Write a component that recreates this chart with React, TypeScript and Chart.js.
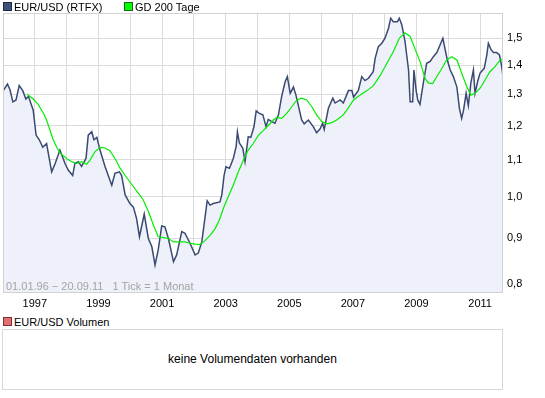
import React, { useEffect, useRef } from 'react';
import { Chart, registerables } from 'chart.js';
Chart.register(...registerables);

// EUR/USD (RTFX) – decimal years and rates
const priceDates = [
  1996.01, 1996.14, 1996.22, 1996.31, 1996.41, 1996.51, 1996.62, 1996.72, 1996.80, 1996.95,
  1997.04, 1997.14, 1997.25, 1997.37, 1997.53, 1997.64, 1997.79, 1997.95, 1998.05, 1998.19,
  1998.26, 1998.37, 1998.47, 1998.61, 1998.68, 1998.79, 1998.86, 1998.95, 1999.05, 1999.21,
  1999.42, 1999.52, 1999.66, 1999.73, 1999.84, 1999.99, 2000.10, 2000.20, 2000.29, 2000.44,
  2000.57, 2000.68, 2000.78, 2000.88, 2000.99, 2001.09, 2001.20, 2001.36, 2001.46, 2001.62,
  2001.72, 2001.88, 2002.04, 2002.14, 2002.25, 2002.32, 2002.42, 2002.51, 2002.61, 2002.82,
  2002.88, 2002.95, 2003.01, 2003.12, 2003.24, 2003.33, 2003.37, 2003.43, 2003.54, 2003.61,
  2003.71, 2003.79, 2003.89, 2003.96, 2004.06, 2004.17, 2004.27, 2004.34, 2004.45, 2004.55,
  2004.66, 2004.76, 2004.87, 2004.94, 2005.03, 2005.13, 2005.21, 2005.39, 2005.47, 2005.60,
  2005.76, 2005.86, 2005.97, 2006.05, 2006.10, 2006.23, 2006.37, 2006.44, 2006.60, 2006.70,
  2006.86, 2006.97, 2007.02, 2007.17, 2007.28, 2007.38, 2007.49, 2007.64, 2007.70, 2007.80,
  2007.91, 2008.01, 2008.12, 2008.19, 2008.27, 2008.40, 2008.46, 2008.54, 2008.64, 2008.75,
  2008.80, 2008.88, 2008.92, 2008.99, 2009.04, 2009.11, 2009.22, 2009.32, 2009.43, 2009.53,
  2009.64, 2009.74, 2009.83, 2009.90, 2009.97, 2010.06, 2010.16, 2010.27, 2010.35, 2010.42,
  2010.48, 2010.56, 2010.63, 2010.71, 2010.79, 2010.84, 2010.92, 2011.00, 2011.13, 2011.21,
  2011.26, 2011.34, 2011.42, 2011.52, 2011.61, 2011.68, 2011.72,
];
const priceValues = [
  1.312, 1.334, 1.315, 1.275, 1.281, 1.329, 1.312, 1.284, 1.293, 1.248,
  1.171, 1.157, 1.135, 1.146, 1.066, 1.089, 1.127, 1.089, 1.071, 1.056,
  1.089, 1.094, 1.081, 1.103, 1.171, 1.181, 1.157, 1.164, 1.127, 1.080,
  1.030, 1.062, 1.066, 1.056, 1.005, 0.983, 0.974, 0.946, 0.903, 0.957,
  0.899, 0.880, 0.840, 0.873, 0.928, 0.926, 0.899, 0.847, 0.862, 0.915,
  0.911, 0.888, 0.862, 0.866, 0.891, 0.930, 0.990, 0.979, 0.983, 0.987,
  1.005, 1.056, 1.080, 1.076, 1.103, 1.137, 1.181, 1.148, 1.132, 1.094,
  1.166, 1.164, 1.196, 1.246, 1.238, 1.233, 1.196, 1.219, 1.212, 1.207,
  1.233, 1.292, 1.342, 1.360, 1.303, 1.324, 1.297, 1.217, 1.205, 1.217,
  1.196, 1.178, 1.190, 1.207, 1.188, 1.254, 1.287, 1.271, 1.281, 1.271,
  1.312, 1.312, 1.290, 1.312, 1.360, 1.346, 1.354, 1.377, 1.425, 1.468,
  1.481, 1.500, 1.539, 1.579, 1.565, 1.565, 1.579, 1.552, 1.487, 1.383,
  1.275, 1.275, 1.383, 1.312, 1.281, 1.267, 1.342, 1.407, 1.414, 1.431,
  1.446, 1.474, 1.500, 1.458, 1.419, 1.383, 1.360, 1.324, 1.254, 1.222,
  1.248, 1.303, 1.263, 1.338, 1.383, 1.303, 1.342, 1.372, 1.389, 1.437,
  1.481, 1.458, 1.446, 1.446, 1.437, 1.395, 1.360,
];

// GD 200 Tage (200-day moving average)
const gd200Dates = [
  1996.76, 1996.95, 1997.11, 1997.27, 1997.37, 1997.48, 1997.58, 1997.69, 1997.79, 1998.00,
  1998.16, 1998.32, 1998.47, 1998.63, 1998.74, 1998.89, 1999.05, 1999.21, 1999.36, 1999.52,
  1999.68, 1999.84, 2000.05, 2000.25, 2000.41, 2000.57, 2000.73, 2000.88, 2001.04, 2001.20,
  2001.36, 2001.57, 2001.72, 2001.88, 2002.04, 2002.19, 2002.35, 2002.51, 2002.67, 2002.80,
  2002.93, 2003.08, 2003.24, 2003.40, 2003.56, 2003.71, 2003.87, 2004.03, 2004.19, 2004.34,
  2004.50, 2004.61, 2004.76, 2004.92, 2005.08, 2005.24, 2005.39, 2005.55, 2005.71, 2005.86,
  2006.02, 2006.18, 2006.34, 2006.49, 2006.70, 2006.81, 2007.02, 2007.23, 2007.44, 2007.64,
  2007.86, 2008.07, 2008.27, 2008.46, 2008.64, 2008.80, 2008.96, 2009.11, 2009.27, 2009.37,
  2009.51, 2009.64, 2009.80, 2009.95, 2010.11, 2010.27, 2010.42, 2010.58, 2010.71, 2010.84,
  2011.00, 2011.16, 2011.31, 2011.47, 2011.63, 2011.70,
];
const gd200Values = [
  1.300, 1.284, 1.266, 1.238, 1.217, 1.185, 1.157, 1.135, 1.119, 1.103,
  1.094, 1.089, 1.094, 1.087, 1.099, 1.122, 1.135, 1.133, 1.125, 1.103,
  1.076, 1.056, 1.032, 1.010, 0.992, 0.963, 0.930, 0.903, 0.901, 0.899,
  0.891, 0.891, 0.891, 0.888, 0.886, 0.885, 0.894, 0.906, 0.922, 0.942,
  0.971, 1.000, 1.030, 1.066, 1.099, 1.127, 1.146, 1.171, 1.185, 1.200,
  1.217, 1.225, 1.222, 1.238, 1.259, 1.281, 1.287, 1.281, 1.259, 1.233,
  1.212, 1.205, 1.209, 1.217, 1.233, 1.248, 1.281, 1.297, 1.312, 1.328,
  1.364, 1.407, 1.449, 1.500, 1.521, 1.507, 1.458, 1.414, 1.354, 1.338,
  1.336, 1.360, 1.389, 1.419, 1.431, 1.419, 1.372, 1.326, 1.297, 1.303,
  1.320, 1.349, 1.377, 1.395, 1.419, 1.421,
];

const yTickValues = [0.8, 0.9, 1.0, 1.1, 1.2, 1.3, 1.4, 1.5];
const xGridYears = [1997, 1998, 1999, 2000, 2001, 2002, 2003, 2004, 2005, 2006, 2007, 2008, 2009, 2010, 2011];
const xLabelYears = [1997, 1999, 2001, 2003, 2005, 2007, 2009, 2011];

const FONT = '"Liberation Sans", Arial, sans-serif';
const GRID = '#dadada';

export default function App() {
  const ref = useRef<HTMLCanvasElement>(null);

  useEffect(() => {
    if (!ref.current) return;
    const frame = {
      id: 'frame',
      afterDatasetsDraw(chart: any) {
        const { ctx, chartArea: a } = chart;
        ctx.save();
        ctx.strokeStyle = '#d2d2d2';
        ctx.lineWidth = 1;
        ctx.strokeRect(Math.round(a.left) + 0.5, Math.round(a.top) + 0.5,
          Math.round(a.right - a.left) - 1, Math.round(a.bottom - a.top) - 1);
        ctx.restore();
      },
    };
    const chart = new Chart(ref.current, {
      type: 'line',
      data: {
        datasets: [
          {
            label: 'GD 200 Tage',
            data: gd200Dates.map((d, i) => ({ x: d, y: gd200Values[i] })),
            borderColor: '#00ee00',
            borderWidth: 1.2,
            pointRadius: 0,
            tension: 0,
            fill: false,
            order: 0,
          },
          {
            label: 'EUR/USD (RTFX)',
            data: priceDates.map((d, i) => ({ x: d, y: priceValues[i] })),
            borderColor: '#3a4a72',
            backgroundColor: '#eef1f9',
            borderWidth: 1.5,
            pointRadius: 0,
            tension: 0,
            fill: 'start',
            order: 1,
          },
        ],
      },
      options: {
        animation: false,
        responsive: false,
        events: [],
        layout: { padding: { left: 3, top: 13, right: 0, bottom: 0 } },
        plugins: { legend: { display: false }, tooltip: { enabled: false } },
        scales: {
          x: {
            type: 'linear',
            min: 1996,
            max: 2011.72,
            grid: { color: GRID, drawTicks: false },
            border: { display: false },
            afterBuildTicks: (s: any) => { s.ticks = xGridYears.map((v) => ({ value: v })); },
            afterFit: (s: any) => { s.height = 17; },
            ticks: {
              autoSkip: false,
              maxRotation: 0,
              padding: 4,
              color: '#000',
              font: { family: FONT, size: 11 },
              callback: (v: any) => (xLabelYears.includes(Number(v)) ? String(v) : ''),
            },
          },
          y: {
            type: 'logarithmic',
            position: 'right',
            min: 0.782,
            max: 1.60,
            grid: { color: GRID, drawTicks: false },
            border: { display: false },
            afterBuildTicks: (s: any) => { s.ticks = yTickValues.map((v) => ({ value: v })); },
            afterFit: (s: any) => { s.width = 42; },
            ticks: {
              padding: 4,
              color: '#000',
              font: { family: FONT, size: 11 },
              callback: (v: any) => Number(v).toFixed(1).replace('.', ','),
            },
          },
        },
      },
      plugins: [frame],
    } as any);
    return () => chart.destroy();
  }, []);

  const text: React.CSSProperties = { position: 'absolute', fontFamily: FONT, fontSize: 11, color: '#000', whiteSpace: 'nowrap', lineHeight: '12px' };
  const sq = (bg: string, border: string, left: number, top: number): React.CSSProperties => ({
    position: 'absolute', left, top, width: 7, height: 7, background: bg, border: `1px solid ${border}`,
  });

  return (
    <div style={{ position: 'absolute', left: 0, top: 0, width: 545, height: 398, background: '#fff', overflow: 'hidden' }}>
      <canvas ref={ref} width={545} height={310} style={{ position: 'absolute', left: 0, top: 0 }} />
      <div style={sq('#3f5079', '#1e2a48', 3, 2)} />
      <div style={{ ...text, left: 14, top: 1 }}>EUR/USD (RTFX)</div>
      <div style={sq('#00ff00', '#206020', 124, 2)} />
      <div style={{ ...text, left: 135, top: 1 }}>GD 200 Tage</div>
      <div style={{ ...text, left: 6, top: 280, color: '#a4a4a4' }}>01.01.96 − 20.09.11&nbsp;&nbsp;&nbsp;1 Tick = 1 Monat</div>
      <div style={sq('#e07070', '#803030', 3, 317)} />
      <div style={{ ...text, left: 14, top: 316 }}>EUR/USD Volumen</div>
      <div style={{ position: 'absolute', left: 2, top: 329, width: 499, height: 59, border: '1px solid #d8d8d8', background: '#fff' }}>
        <div style={{ ...text, left: 0, right: 0, top: 23, textAlign: 'center', fontSize: 12 }}>keine Volumendaten vorhanden</div>
      </div>
    </div>
  );
}
